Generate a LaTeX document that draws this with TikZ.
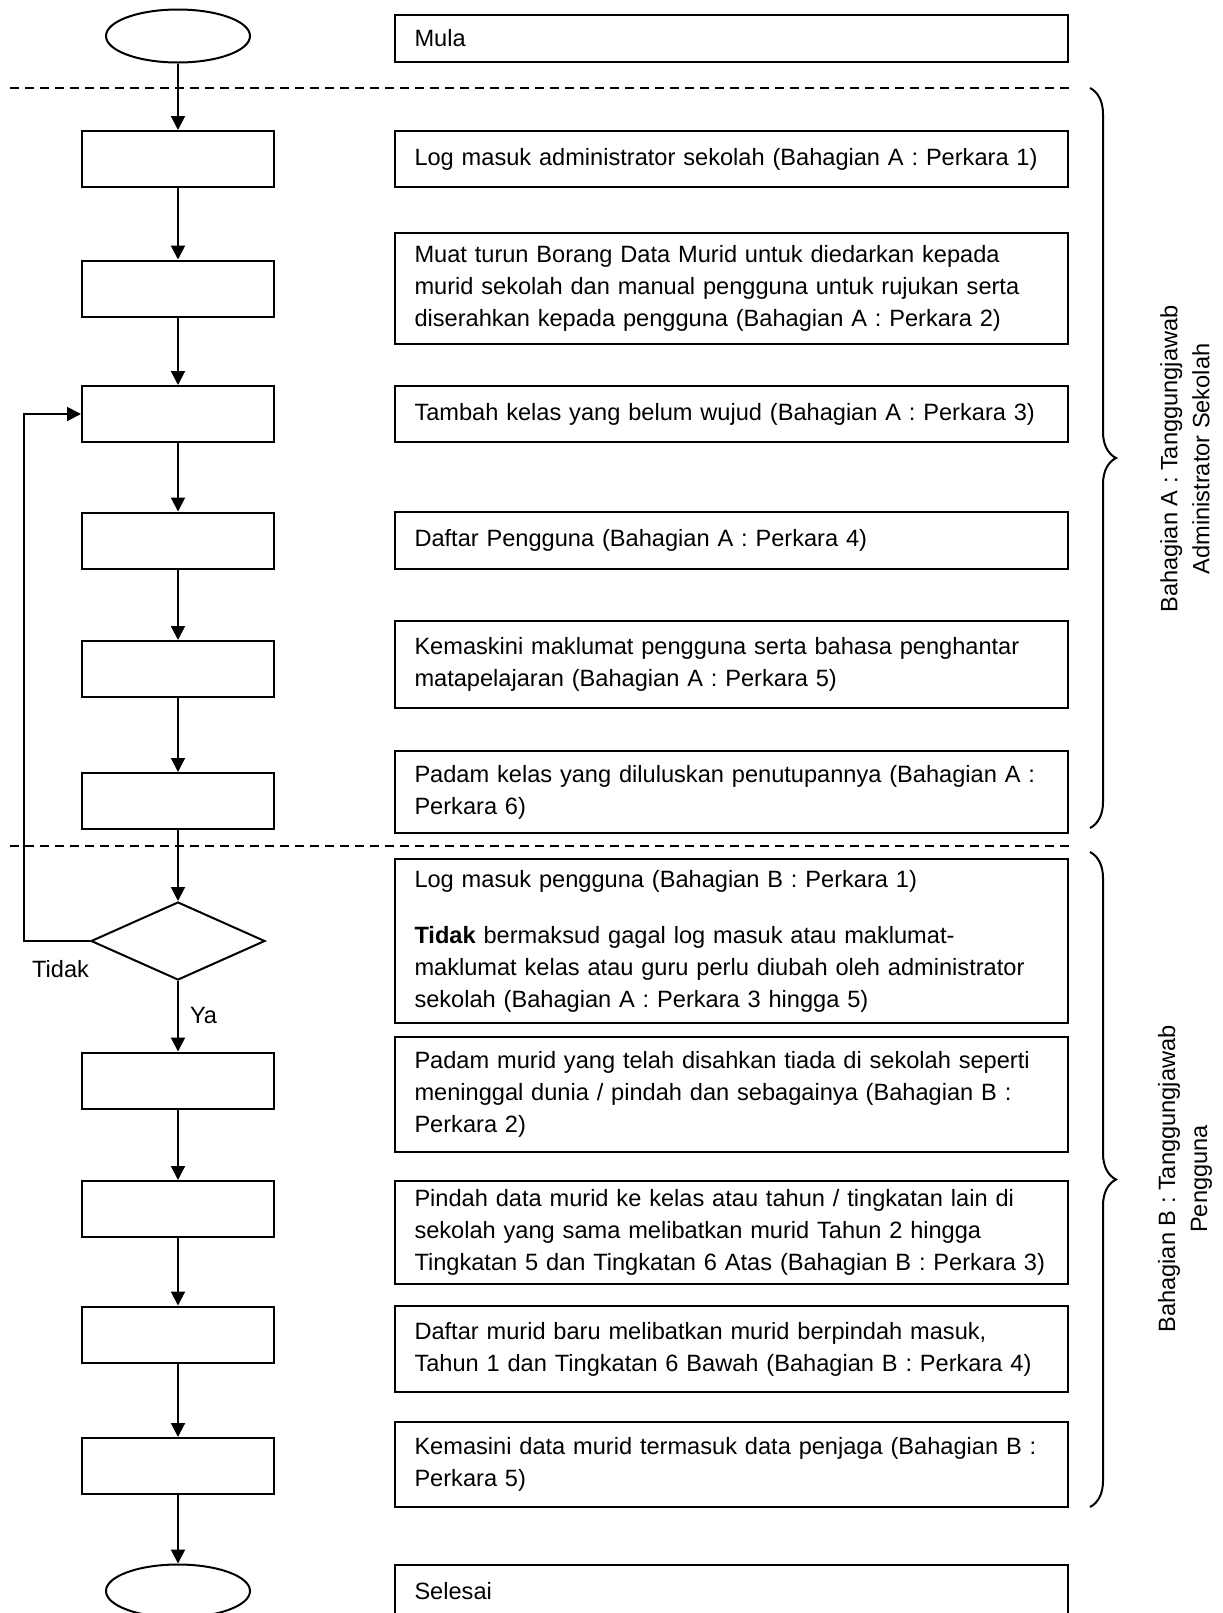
\documentclass[tikz,border=0pt]{standalone}
\usepackage{fontspec}
\setmainfont{Liberation Sans}
\usetikzlibrary{arrows.meta,shapes.geometric,decorations.pathreplacing}
\begin{document}
\begin{tikzpicture}[x=.5pt,y=-.5pt,line width=1pt,
    every node/.style={font=\fontsize{11.8}{16}\selectfont},
    proc/.style={draw,minimum width=96pt,minimum height=28pt,inner sep=0pt},
    term/.style={draw,ellipse,minimum width=72pt,minimum height=26.5pt,inner sep=0pt},
    dec/.style={draw,diamond,minimum width=87pt,minimum height=39pt,inner sep=0pt},
    txt/.style={draw,text width=317pt,inner xsep=9.75pt,inner ysep=0pt,align=left},
    arr/.style={-{Triangle[length=7pt,width=7pt]}},
    brc/.style={decorate,decoration={brace,amplitude=13pt}},
    sep/.style={line width=.7pt,dash pattern=on 4.5pt off 3pt}]
    \path[use as bounding box,fill=white](0,0)rectangle(1222,1613);
    \draw[sep](10,88)--(1070,88);
    \draw[sep](10,846)--(1070,846);
    \node[term](start)at(178,36){};
    \node[proc](b1)at(178,159){};
    \node[proc](b2)at(178,288.5){};
    \node[proc](b3)at(178,414){};
    \node[proc](b4)at(178,540.5){};
    \node[proc](b5)at(178,669){};
    \node[proc](b6)at(178,801){};
    \node[dec](chk)at(178,941){};
    \node[proc](b7)at(178,1080.5){};
    \node[proc](b8)at(178,1209){};
    \node[proc](b9)at(178,1334.5){};
    \node[proc](b10)at(178,1466){};
    \node[term](stop)at(178,1591){};
    \draw[arr](start)--(b1);
    \draw[arr](b1)--(b2);
    \draw[arr](b2)--(b3);
    \draw[arr](b3)--(b4);
    \draw[arr](b4)--(b5);
    \draw[arr](b5)--(b6);
    \draw[arr](b6)--(chk);
    \draw[arr](chk)--(b7);
    \draw[arr](b7)--(b8);
    \draw[arr](b8)--(b9);
    \draw[arr](b9)--(b10);
    \draw[arr](b10)--(stop);
    \coordinate(back)at(24,941);
    \draw[arr](chk.west)--(back)|-(b3.west);
    \node[anchor=base east,inner sep=0pt](tidak)at([shift={(0,36)}]chk.west){Tidak};
    \node[anchor=base west,inner sep=0pt](ya)at([shift={(11,42)}]chk.south){Ya};
    \node[txt,minimum height=23.5pt](mula)at(731.5,38.5){Mula};
    \node[txt,minimum height=28pt](r1)at(731.5,159){Log masuk administrator sekolah (Bahagian A : Perkara 1)};
    \node[txt,minimum height=55.5pt](r2)at(731.5,288.5){Muat turun Borang Data Murid untuk diedarkan kepada\\murid sekolah dan manual pengguna untuk rujukan serta\\diserahkan kepada pengguna (Bahagian A : Perkara 2)};
    \node[txt,minimum height=28pt](r3)at(731.5,414){Tambah kelas yang belum wujud (Bahagian A : Perkara 3)};
    \node[txt,minimum height=28.5pt](r4)at(731.5,540.5){Daftar Pengguna (Bahagian A : Perkara 4)};
    \node[txt,minimum height=43.5pt](r5)at(731.5,664.5){Kemaskini maklumat pengguna serta bahasa penghantar\\matapelajaran (Bahagian A : Perkara 5)};
    \node[txt,minimum height=41pt](r6)at(731.5,792){Padam kelas yang diluluskan penutupannya (Bahagian A :\\Perkara 6)};
    \node[txt,minimum height=82pt](r7)at(731.5,941){Log masuk pengguna (Bahagian B : Perkara 1)\\[12pt]\textbf{Tidak} bermaksud gagal log masuk atau maklumat-\\maklumat kelas atau guru perlu diubah oleh administrator\\sekolah (Bahagian A : Perkara 3 hingga 5)};
    \node[txt,minimum height=57.5pt](r8)at(731.5,1094.5){Padam murid yang telah disahkan tiada di sekolah seperti\\meninggal dunia / pindah dan sebagainya (Bahagian B :\\Perkara 2)};
    \node[txt,minimum height=51.5pt](r9)at(731.5,1232.5){Pindah data murid ke kelas atau tahun / tingkatan lain di\\sekolah yang sama melibatkan murid Tahun 2 hingga\\Tingkatan 5 dan Tingkatan 6 Atas (Bahagian B : Perkara 3)};
    \node[txt,minimum height=43pt](r10)at(731.5,1349){Daftar murid baru melibatkan murid berpindah masuk,\\Tahun 1 dan Tingkatan 6 Bawah (Bahagian B : Perkara 4)};
    \node[txt,minimum height=42.5pt](r11)at(731.5,1464.5){Kemasini data murid termasuk data penjaga (Bahagian B :\\Perkara 5)};
    \node[txt,minimum height=26pt](end)at(731.5,1591){Selesai};
    \draw[brc](1090,88)--(1090,828);
    \draw[brc](1090,852)--(1090,1507);
    \node[rotate=90,align=center](lbla)at(1185,459){Bahagian A : Tanggungjawab\\Administrator Sekolah};
    \node[rotate=90,align=center](lblb)at(1185,1179){Bahagian B : Tanggungjawab\\Pengguna};
\end{tikzpicture}
\end{document}
